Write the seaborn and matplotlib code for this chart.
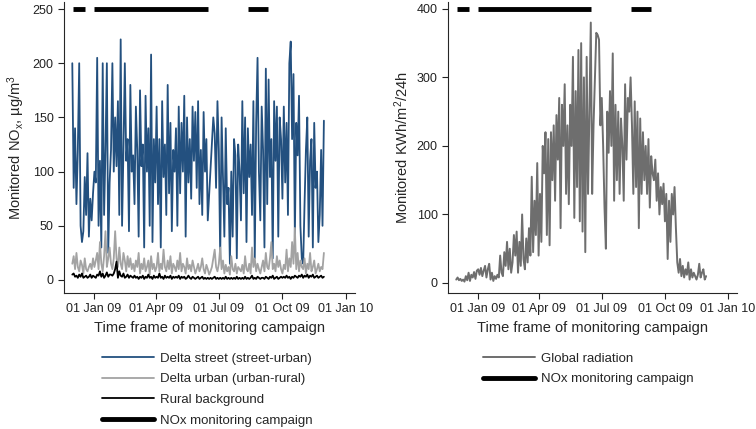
import numpy as np
import pandas as pd
import matplotlib
matplotlib.use("Agg")
import matplotlib.pyplot as plt
import matplotlib.dates as mdates
import seaborn as sns
from matplotlib.lines import Line2D

# Readings every second day, 01 Dec 2008 - 30 Nov 2009
dates = pd.date_range("2008-12-01", "2009-11-30", freq="2D")

nan = np.nan
delta_street = [
    # Dec
    200, 85, 140, 70, 120, 200, 50, 35, 45, 95, 60, 117, 40, 75, 55, 80,
    # Jan
    100, 90, 205, 50, 110, 30, 200, 60, 120, 200, 25, 90, 120, 200, 100,
    # Feb
    150, 105, 165, 60, 222, 50, 120, 200, 110, 130, 45, 180, 100, 115,
    # Mar
    70, 160, 120, 40, 175, 105, 125, 30, 170, 100, 140, 50, 208, 35, 130, 90,
    # Apr
    160, 70, 130, 30, 165, 95, 125, 60, 180, 80, 145, 45, 120, 100, 140,
    # May
    50, 160, 80, 145, 100, 170, 40, 150, 90, 130, 75, 160, 110, 155, 85, 165,
    # Jun
    70, 120, 60, 155, 100, 130, 55, nan, nan, nan, 150, 135, 85, 165, 120,
    # Jul
    20, 150, 95, 40, 140, 70, 85, 15, 100, 40, 130, 115, 20, 125, 100,
    # Aug
    55, 165, 80, 150, 35, 140, 95, 125, 60, 165, 20, 145, 205, 100, 55, 160,
    # Sep
    120, 30, 195, 70, 185, 95, 130, 20, 165, 110, 160, 40, 150, 130, 75,
    # Oct
    160, 90, 145, 60, 200, 220, 130, 190, 40, 145, 115, 170, 50, 20, 15,
    # Nov
    70, 120, 150, 40, 110, 130, 30, 145, 85, 100, 35, 60, 120, 50, 147,
]

delta_urban = [
    15, 22, 10, 25, 12, 8, 18, 14, 6, 20, 10, 8, 12, 15, 10, 20,
    12, 18, 25, 10, 35, 15, 8, 22, 45, 12, 20, 30, 15, 10, 20,
    45, 20, 12, 30, 15, 10, 25, 18, 8, 22, 12, 20, 10, 15,
    8, 18, 12, 25, 6, 15, 10, 20, 8, 12, 18, 5, 22, 10, 15, 8,
    12, 25, 8, 15, 10, 28, 12, 8, 18, 10, 22, 6, 15, 12, 8,
    18, 10, 25, 8, 15, 12, 6, 20, 10, 14, 8, 18, 12, 6, 10, 15,
    8, 12, 20, 10, 6, 14, 10, 5, 8, 12, 20, 28, 12, 8, 15,
    30, 10, 18, 6, 14, 8, 12, 5, 22, 10, 8, 15, 6, 12, 10,
    8, 14, 6, 22, 10, 8, 15, 6, 30, 12, 20, 8, 15, 10, 6, 12,
    18, 8, 25, 12, 10, 20, 35, 10, 15, 8, 22, 12, 18, 10, 6,
    14, 10, 28, 8, 20, 12, 35, 15, 48, 10, 25, 8, 18, 12, 10,
    20, 6, 15, 10, 25, 8, 12, 18, 6, 10, 15, 8, 12, 10, 25,
]

rural_background = [
    5, 6, 3, 4, 2, 5, 3, 6, 2, 3, 4, 2, 3, 5, 2, 4,
    3, 2, 5, 4, 8, 3, 6, 2, 4, 7, 3, 5, 5, 4, 6,
    10, 17, 2, 8, 4, 3, 6, 2, 3, 5, 2, 4, 3, 2,
    4, 2, 3, 1, 3, 2, 4, 1, 3, 2, 5, 2, 3, 1, 4, 2,
    3, 2, 6, 2, 3, 1, 4, 2, 3, 2, 4, 1, 3, 2, 3,
    2, 4, 1, 3, 2, 3, 1, 2, 4, 2, 1, 3, 2, 1, 2, 3,
    1, 2, 3, 1, 2, 1, 2, 1, 2, 1, 2, 3, 1, 2, 1,
    2, 1, 2, 1, 3, 1, 2, 1, 2, 1, 2, 1, 3, 1, 2,
    1, 2, 1, 3, 1, 2, 1, 2, 4, 1, 2, 1, 3, 2, 1, 2,
    2, 1, 3, 2, 1, 3, 2, 4, 1, 2, 3, 1, 2, 3, 2,
    3, 2, 4, 2, 3, 1, 3, 2, 4, 3, 2, 4, 3, 5, 2,
    4, 3, 5, 2, 4, 3, 5, 2, 3, 4, 2, 3, 4, 2, 3,
]

global_radiation = [
    5, 8, 4, 6, 3, 5, 2, 10, 4, 15, 3, 12, 8, 16, 6, 18,
    20, 12, 22, 10, 18, 25, 8, 20, 28, 5, 15, 3, 10, 6, 12,
    8, 40, 15, 10, 45, 25, 60, 20, 50, 15, 30, 70, 40, 75,
    15, 60, 25, 100, 35, 20, 65, 30, 80, 40, 155, 45, 120, 70, 175, 40,
    130, 60, 200, 160, 220, 70, 210, 55, 220, 150, 230, 120, 245, 180, 270,
    80, 260, 200, 290, 130, 230, 115, 260, 200, 330, 95, 280, 140, 340, 90, 350,
    75, 300, 45, 330, 130, 250, 380, 130, 230, 300, 365, 362, 355, 230, 270,
    200, 110, 50, 250, 190, 280, 200, 335, 120, 260, 150, 250, 130, 240, 200,
    120, 290, 180, 270, 250, 300, 230, 130, 265, 140, 250, 80, 240, 130, 220, 150,
    200, 130, 210, 110, 185, 160, 150, 180, 120, 160, 100, 140, 115, 145, 90,
    130, 35, 120, 60, 130, 100, 140, 80, 30, 15, 35, 10, 25, 8, 20,
    12, 30, 5, 20, 8, 15, 10, 5, 12, 28, 8, 15, 20, 5, 10,
]

# NOx monitoring campaign periods
campaign_start = ["2008-12-02", "2009-01-02", "2009-08-12"]
campaign_end = ["2008-12-19", "2009-06-16", "2009-09-10"]

tick_dates = ["2009-01-01", "2009-04-01", "2009-07-01", "2009-10-01", "2010-01-01"]

df = pd.DataFrame({
    "date": dates,
    "street": delta_street,
    "urban": delta_urban,
    "rural": rural_background,
    "radiation": global_radiation,
})

sns.set_theme(style="ticks")
plt.rcParams["font.family"] = ["Liberation Sans", "DejaVu Sans"]
plt.rcParams["mathtext.fontset"] = "custom"
plt.rcParams["mathtext.rm"] = "Liberation Sans"
plt.rcParams["mathtext.it"] = "Liberation Sans:italic"

c_street = "#23507f"
c_urban = "#a3a3a3"
c_rad = "#6e6e6e"

fig = plt.figure(figsize=(7.56, 4.29), dpi=100)
ax1 = fig.add_axes([64 / 756, 1 - 293 / 429, 291 / 756, 291 / 429])
ax2 = fig.add_axes([448 / 756, 1 - 293 / 429, 289 / 756, 291 / 429])


def draw_campaign(ax, level):
    for s, e in zip(campaign_start, campaign_end):
        seg = pd.DataFrame({"date": pd.to_datetime([s, e]), "y": [level, level]})
        sns.lineplot(data=seg, x="date", y="y", ax=ax, color="black", lw=3.5,
                     solid_capstyle="butt")


# left panel
for col, color in [("street", c_street), ("urban", c_urban), ("rural", "black")]:
    sns.lineplot(data=df, x="date", y=col, ax=ax1, color=color, lw=1.3,
                 estimator=None)
draw_campaign(ax1, 250)
ax1.set_ylim(-12, 256.5)
ax1.set_yticks([0, 50, 100, 150, 200, 250])
ax1.set_ylabel("Monitored NO$_\\mathrm{x}$, µg/m$^3$", fontsize=10.5)

# right panel
sns.lineplot(data=df, x="date", y="radiation", ax=ax2, color=c_rad, lw=1.4,
             estimator=None)
draw_campaign(ax2, 400)
ax2.set_ylim(-14.6, 410)
ax2.set_yticks([0, 100, 200, 300, 400])
ax2.set_ylabel("Monitored KWh/m$^2$/24h", fontsize=10.5)

for ax in (ax1, ax2):
    ax.set_xlim(pd.Timestamp("2008-11-19"), pd.Timestamp("2010-01-14"))
    ax.set_xticks(pd.to_datetime(tick_dates))
    ax.xaxis.set_major_formatter(mdates.DateFormatter("%d %b %y"))
    ax.set_xlabel("Time frame of monitoring campaign", fontsize=10.5, labelpad=4)
    ax.tick_params(labelsize=9, length=4, width=0.8, colors="#222222")
    ax.yaxis.labelpad = 4
    for sp in ("left", "bottom"):
        ax.spines[sp].set_linewidth(0.8)
    sns.despine(ax=ax)

# legends
h1 = [Line2D([], [], color=c_street, lw=1.3),
      Line2D([], [], color=c_urban, lw=1.3),
      Line2D([], [], color="black", lw=1.3),
      Line2D([], [], color="black", lw=3.5)]
l1 = ["Delta street (street-urban)", "Delta urban (urban-rural)",
      "Rural background", "NOx monitoring campaign"]
fig.legend(h1, l1, loc="upper left", bbox_to_anchor=(97 / 756, 1 - 347 / 429),
           frameon=False, fontsize=9.5, handlelength=3.9, handletextpad=0.5,
           labelspacing=0.64, borderaxespad=0)

h2 = [Line2D([], [], color=c_rad, lw=1.4), Line2D([], [], color="black", lw=3.5)]
l2 = ["Global radiation", "NOx monitoring campaign"]
fig.legend(h2, l2, loc="upper left", bbox_to_anchor=(478 / 756, 1 - 347 / 429),
           frameon=False, fontsize=9.5, handlelength=3.9, handletextpad=0.5,
           labelspacing=0.64, borderaxespad=0)

fig.savefig("out.png", dpi=100)
